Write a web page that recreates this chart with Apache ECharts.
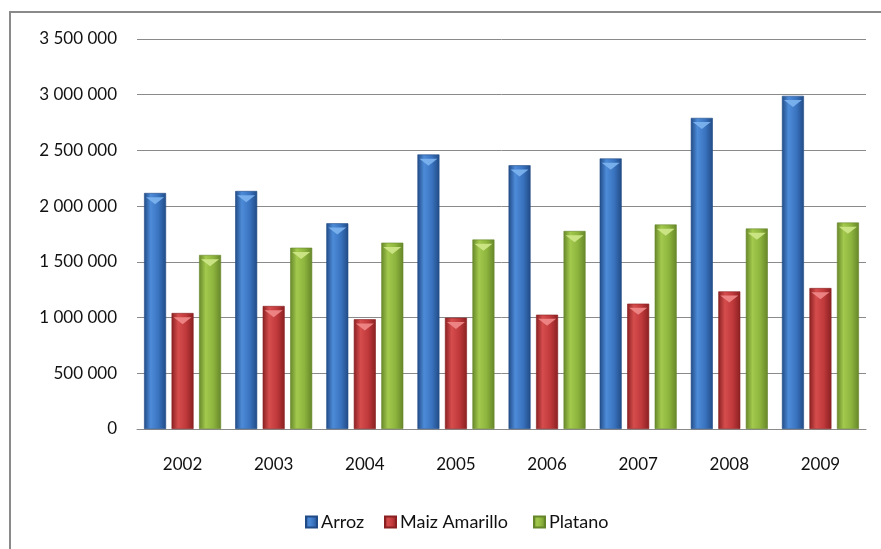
<!DOCTYPE html>
<html>
<head>
<meta charset="utf-8">
<title>Arroz, Maiz Amarillo, Platano</title>
<script src="https://cdn.jsdelivr.net/npm/echarts@6/dist/echarts.min.js"></script>
<style>
  html, body { margin: 0; padding: 0; background: #fff; }
  #main { width: 881px; height: 549px; }
</style>
</head>
<body>
<div id="main"></div>
<script>
var years = ['2002', '2003', '2004', '2005', '2006', '2007', '2008', '2009'];
var arroz = [2118000, 2136000, 1846000, 2464000, 2367000, 2428000, 2792000, 2990000];
var maiz = [1041000, 1104000, 985000, 999000, 1026000, 1125000, 1235000, 1265000];
var platano = [1562000, 1627000, 1672000, 1700000, 1777000, 1835000, 1799000, 1853000];
var seriesNames = ['Arroz', 'Maiz Amarillo', 'Platano'];

// colores tipo cilindro: borde oscuro, centro claro
var palettes = [
  { dark: '#214b86', mid: '#3a74c0', light: '#4d8bd8', top: '#7db4f0' },
  { dark: '#8a2021', mid: '#c0393b', light: '#d64d4d', top: '#f08a8a' },
  { dark: '#66862a', mid: '#8db43d', light: '#a3c94d', top: '#cfe88a' }
];

function barGradient(p) {
  return new echarts.graphic.LinearGradient(0, 0, 1, 0, [
    { offset: 0, color: p.dark },
    { offset: 0.3, color: p.light },
    { offset: 0.65, color: p.mid },
    { offset: 1, color: p.dark }
  ]);
}

function fmt(v) {
  return String(v).replace(/\B(?=(\d{3})+(?!\d))/g, ' ');
}

var chart = echarts.init(document.getElementById('main'), null, { renderer: 'canvas' });

var dataSets = [arroz, maiz, platano];
var series = [];
dataSets.forEach(function (d, i) {
  series.push({
    name: seriesNames[i],
    type: 'bar',
    data: d,
    barWidth: 22,
    barGap: '25%',
    itemStyle: {
      color: barGradient(palettes[i]),
      borderColor: palettes[i].dark,
      borderWidth: 0.6
    },
    z: 2
  });
});
// bisel triangular en la parte superior de cada barra
dataSets.forEach(function (d, i) {
  series.push({
    name: seriesNames[i] + ' top',
    type: 'pictorialBar',
    data: d,
    barWidth: 22,
    barGap: '25%',
    symbol: 'path://M0,0 L10,0 L5,4 Z',
    symbolSize: [18, 7],
    symbolPosition: 'end',
    symbolOffset: [0, '60%'],
    itemStyle: { color: palettes[i].top, opacity: 0.9 },
    silent: true,
    z: 3
  });
});

// leyenda: un componente por elemento para respetar las posiciones
var legendLeft = [305, 384, 533];
var legends = seriesNames.map(function (n, i) {
  return {
    data: [n],
    left: legendLeft[i],
    top: 513,
    padding: 0,
    icon: 'rect',
    itemWidth: 11,
    itemHeight: 11,
    textStyle: { fontSize: 18, color: '#111', fontFamily: 'Lato', padding: [0, 0, 0, -1] }
  };
});

var option = {
  animation: false,
  backgroundColor: '#fff',
  textStyle: { fontFamily: 'Lato' },
  graphic: [{
    type: 'rect',
    shape: { x: 10, y: 12, width: 1000, height: 1000 },
    style: { fill: 'none', stroke: '#8a8a8a', lineWidth: 2 },
    silent: true
  }],
  grid: { left: 137, right: 15, top: 39, bottom: 120, containLabel: false },
  legend: legends,
  xAxis: {
    type: 'category',
    data: years,
    axisLine: { lineStyle: { color: '#8a8a8a', width: 1 } },
    axisTick: { show: false },
    axisLabel: { fontSize: 17, color: '#111', margin: 27 }
  },
  yAxis: {
    type: 'value',
    min: 0,
    max: 3500000,
    interval: 500000,
    axisLine: { show: false },
    axisTick: { show: false },
    splitLine: { lineStyle: { color: '#8a8a8a', width: 1 } },
    axisLabel: {
      fontSize: 17,
      color: '#111',
      margin: 20,
      formatter: function (v) { return fmt(v); }
    }
  },
  series: series
};

chart.setOption(option);
</script>
</body>
</html>
